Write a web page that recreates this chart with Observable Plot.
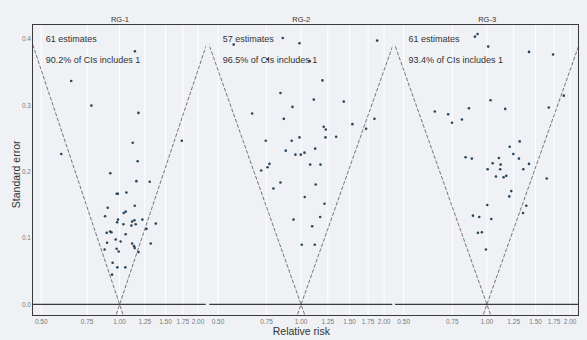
<!DOCTYPE html>
<html><head><meta charset="utf-8">
<script src="https://cdn.jsdelivr.net/npm/d3@7"></script>
<script src="https://cdn.jsdelivr.net/npm/@observablehq/plot@0.6"></script>
<style>
html,body{margin:0;padding:0;background:#eff1f5;}
#chart{position:relative;width:587px;height:340px;font-family:"Liberation Sans",Arial,sans-serif;}
#chart svg{position:absolute;left:0;top:0;}
#frame{position:absolute;left:32px;top:24.3px;width:547px;height:292.2px;border:1.5px solid #3a3a3a;box-sizing:border-box;pointer-events:none;z-index:5;}
</style></head><body><div id="chart"><div id="frame"></div></div>
<script>
// ---- data (relative risk, standard error) ----
const rg1RR = [1.145,0.652,0.779,1.181,1.733,1.123,0.597,1.173,0.921,1.160,1.305,0.975,0.985,1.062,1.143,0.900,1.055,1.037,0.879,1.223,0.986,1.140,1.117,0.978,1.377,1.153,1.034,1.110,1.267,0.919,0.930,0.892,1.055,0.966,1.009,0.895,1.117,1.317,1.136,1.143,0.974,0.876,0.992,1.181,0.940,0.980,1.052,0.935];
const rg1SE = [0.382,0.337,0.300,0.289,0.247,0.244,0.227,0.216,0.198,0.186,0.185,0.167,0.167,0.169,0.149,0.146,0.140,0.138,0.133,0.128,0.128,0.127,0.125,0.124,0.122,0.121,0.121,0.119,0.114,0.110,0.109,0.108,0.106,0.098,0.095,0.093,0.092,0.092,0.088,0.085,0.084,0.083,0.080,0.079,0.063,0.056,0.056,0.045];

const rg2RR = [0.570,0.858,0.987,0.756,1.075,1.887,1.195,0.842,1.112,1.428,0.931,0.665,0.866,1.845,1.535,1.208,1.229,1.721,1.226,1.340,0.987,0.745,0.925,1.125,0.880,1.029,0.954,0.998,0.768,1.079,1.176,0.717,0.756,0.794,0.842,1.130,1.031,1.216,0.939,1.173,1.097,1.006,1.121];
const rg2SE = [0.392,0.402,0.394,0.370,0.367,0.398,0.338,0.319,0.309,0.306,0.298,0.288,0.280,0.280,0.272,0.268,0.264,0.265,0.252,0.253,0.252,0.247,0.247,0.235,0.232,0.229,0.226,0.226,0.212,0.211,0.211,0.202,0.207,0.175,0.184,0.181,0.162,0.152,0.128,0.132,0.118,0.090,0.090];

const rg3RR = [0.905,0.925,1.011,1.420,1.735,1.031,0.648,0.724,0.861,1.165,1.674,1.897,0.748,0.812,1.209,1.314,1.246,1.306,0.837,0.882,1.105,1.049,1.121,1.420,1.006,1.117,1.354,1.078,1.149,1.175,1.646,1.225,1.205,1.003,1.388,1.351,0.890,0.938,1.037,0.928,0.959,0.992];
const rg3SE = [0.404,0.408,0.389,0.381,0.377,0.308,0.291,0.287,0.296,0.295,0.297,0.315,0.274,0.279,0.238,0.246,0.227,0.220,0.222,0.220,0.221,0.213,0.211,0.212,0.204,0.204,0.204,0.193,0.192,0.194,0.190,0.171,0.163,0.150,0.149,0.138,0.134,0.132,0.129,0.108,0.109,0.083];

const panelTitles = ["RG-1", "RG-2", "RG-3"];
const estimateLabels = ["61 estimates", "57 estimates", "61 estimates"];
const ciLabels = ["90.2% of CIs includes 1", "96.5% of CIs includes 1", "93.4% of CIs includes 1"];
const xTicks = [0.5, 0.75, 1, 1.25, 1.5, 1.75, 2];
const yTicks = [0, 0.1, 0.2, 0.3, 0.4];
const funnelSE = [-0.03, 0.42];   // span of the 95% funnel lines
const zCrit = 1.96;

// ---- layout ----
const W = 587, H = 340;
const xDomain = [0.467, 2.15];
const yDomain = [-0.0177, 0.4208];
const panelRanges = [[33, 205.7], [209.3, 392.3], [395, 578.3]];
const annX = 0.52, annY = [0.400, 0.368];
const font = "'Liberation Sans', Arial, sans-serif";
const fmtX = d3.format(".2f"), fmtY = d3.format(".1f");

const rrs = [rg1RR, rg2RR, rg3RR];
const ses = [rg1SE, rg2SE, rg3SE];
const chart = document.getElementById("chart");

for (let i = 0; i < 3; i++) {
  const data = rrs[i].map((r, j) => ({rr: r, se: ses[i][j]}));
  const funnel = [-1, 1].flatMap(s => funnelSE.map(se => ({side: s, rr: Math.exp(s * zCrit * se), se})));
  const ann = [{t: estimateLabels[i], y: annY[0]}, {t: ciLabels[i], y: annY[1]}];
  const marks = [
    Plot.ruleX(xTicks, {x: d => d, stroke: "white", strokeOpacity: 1, strokeWidth: 1}),
    Plot.ruleY([0], {stroke: "#3a3a3a", strokeWidth: 1.3}),
    Plot.line(funnel, {x: "rr", y: "se", z: "side", stroke: "#555", strokeWidth: 0.8, strokeDasharray: "3,2.5", clip: true}),
    Plot.dot(data, {x: "rr", y: "se", r: 1.3, fill: "#27475e", clip: true}),
    Plot.text(ann, {x: () => annX, y: "y", text: "t", textAnchor: "start", fontSize: 9, fill: "#333"}),
    Plot.text([panelTitles[i]], {frameAnchor: "top", lineAnchor: "middle", dy: -5.8, fontSize: 7.5, fill: "#333"}),
    Plot.text(xTicks, {x: d => d, frameAnchor: "bottom", lineAnchor: "middle", dy: 5.4, text: d => fmtX(d), fontSize: 6.5, fill: "#7a7a7a"})
  ];
  if (i === 0) {
    marks.push(Plot.text(yTicks, {y: d => d, frameAnchor: "left", textAnchor: "end", dx: -2.5, text: d => fmtY(d), fontSize: 6.5, fill: "#7a7a7a"}));
    marks.push(Plot.text(["Standard error"], {frameAnchor: "left", textAnchor: "middle", rotate: -90, dx: -17, dy: 3.5, fontSize: 10.5, fill: "#333"}));
  }
  if (i === 1) {
    marks.push(Plot.text(["Relative risk"], {frameAnchor: "bottom", lineAnchor: "middle", dy: 15.3, fontSize: 10.5, fill: "#333"}));
  }
  const svg = Plot.plot({
    width: W, height: H,
    marginLeft: panelRanges[i][0], marginRight: W - panelRanges[i][1],
    marginTop: 25, marginBottom: H - 315.7,
    x: {type: "log", domain: xDomain, axis: null},
    y: {domain: yDomain, axis: null},
    style: {background: "transparent", fontFamily: font, overflow: "visible"},
    marks
  });
  chart.appendChild(svg);
}
</script>
</body></html>
